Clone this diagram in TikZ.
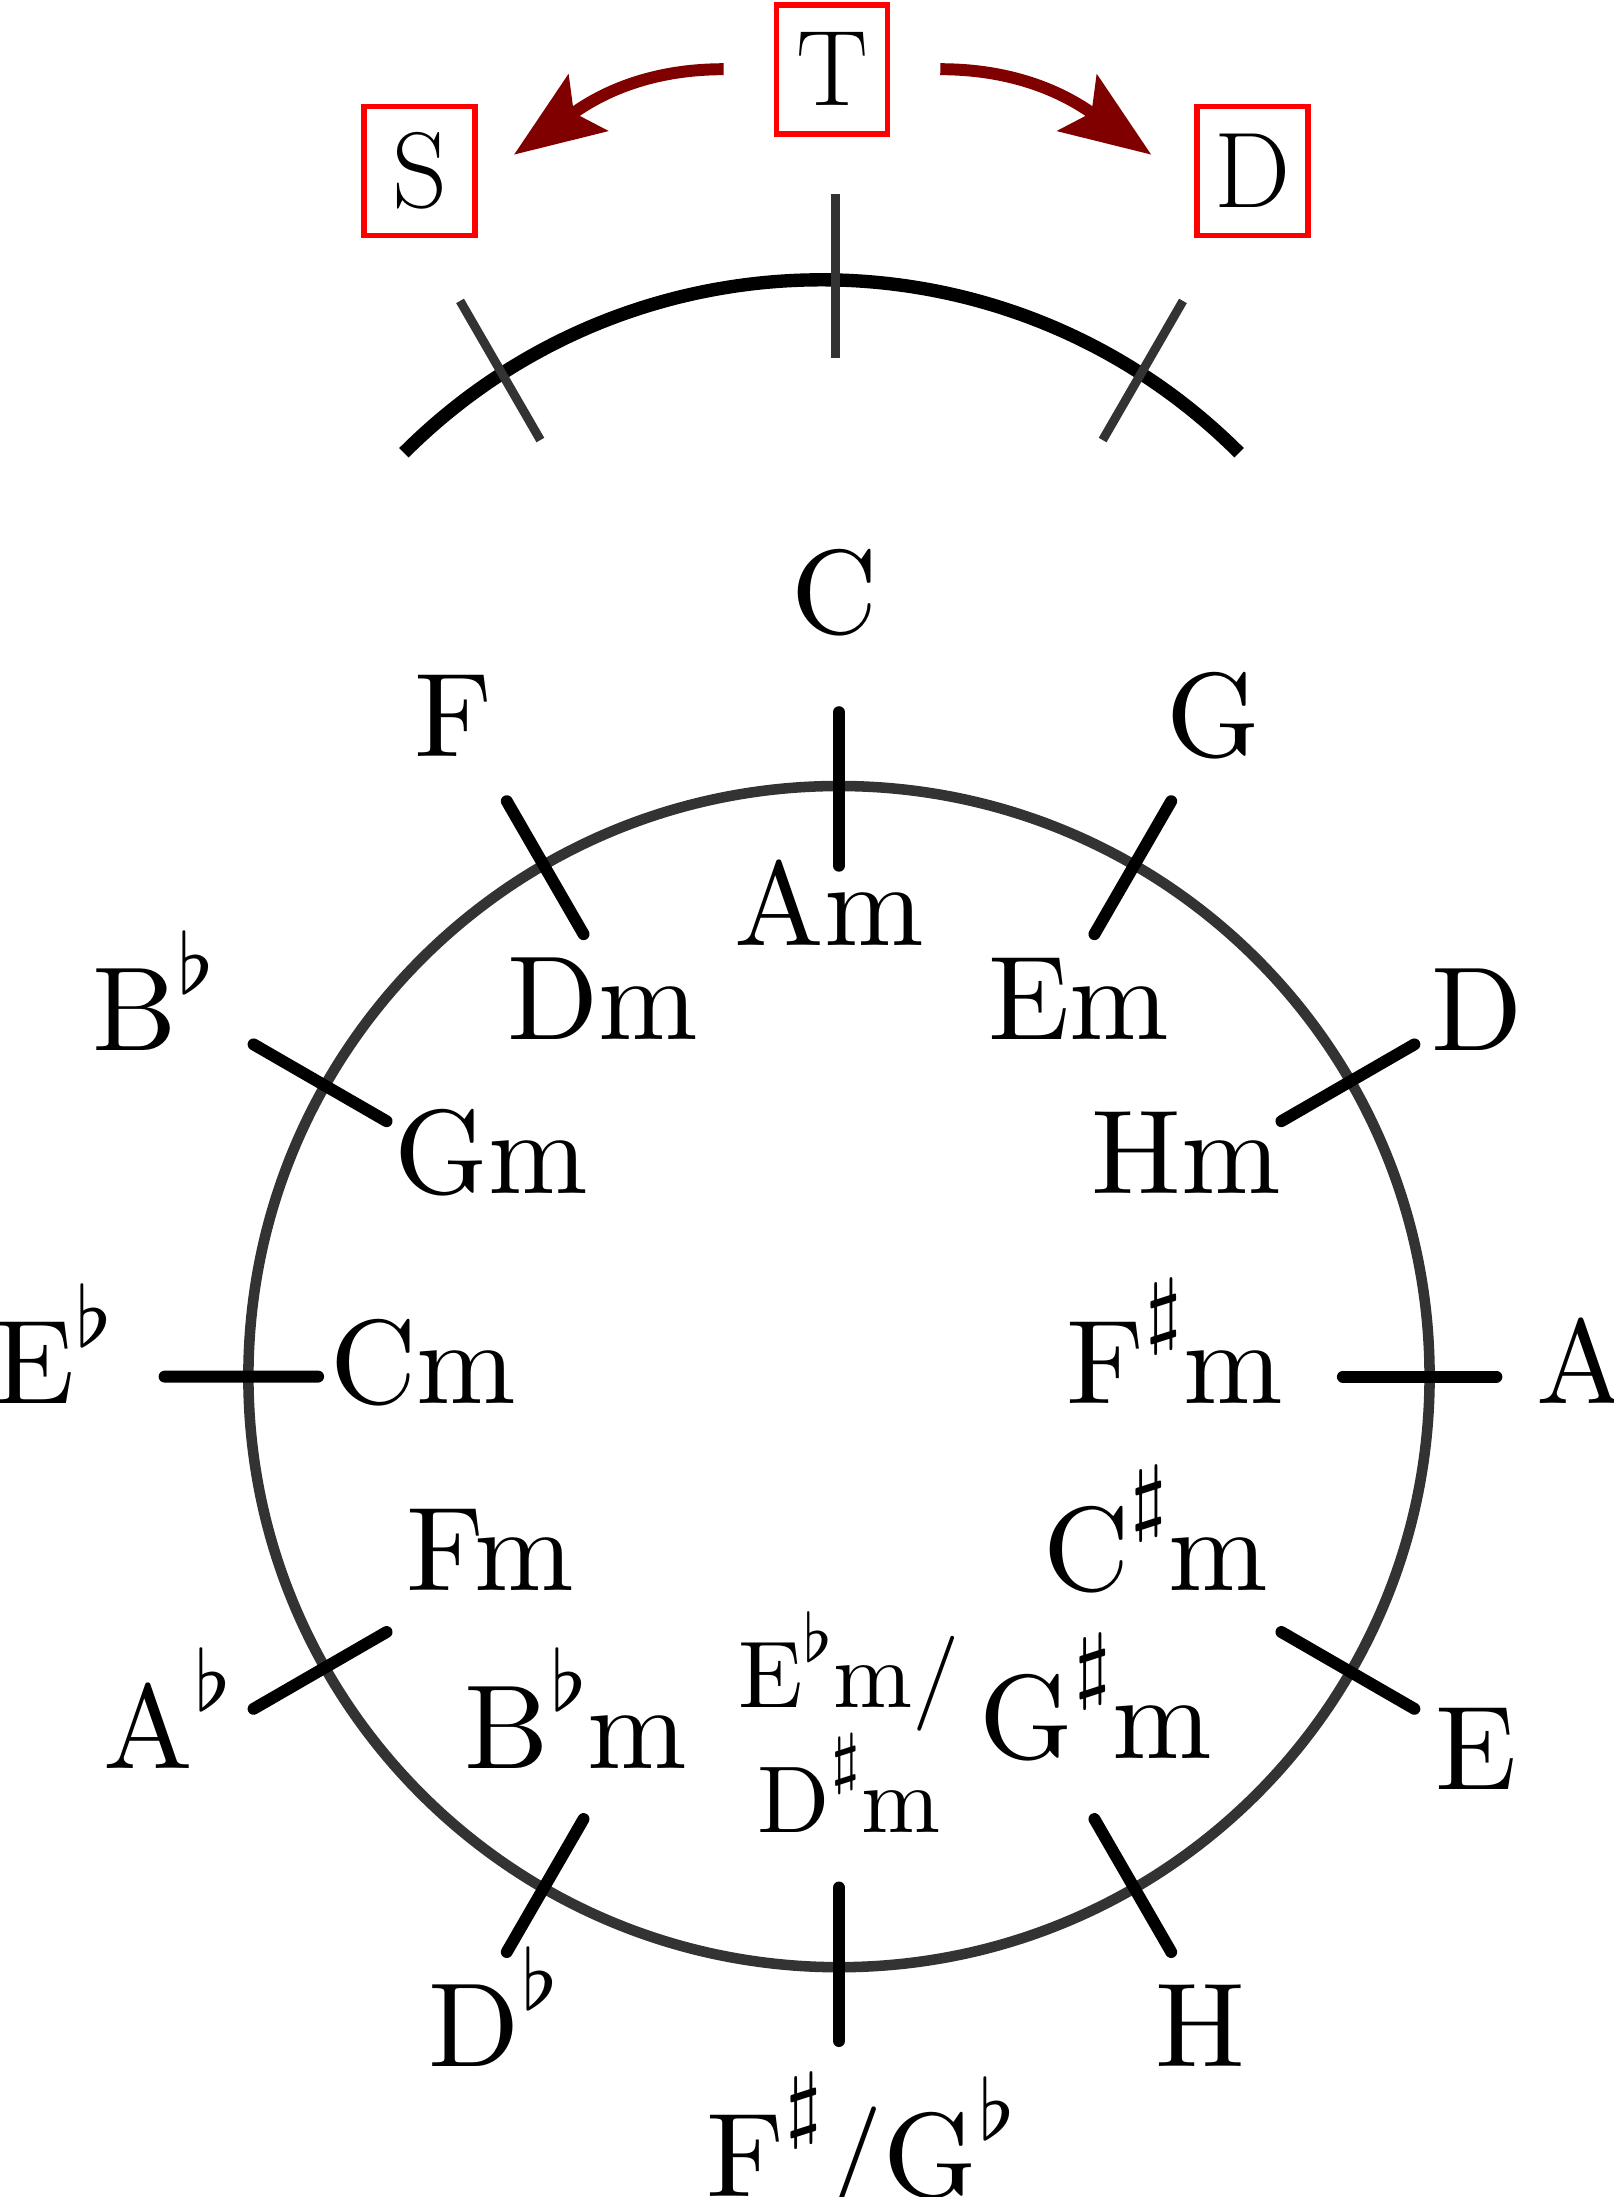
\documentclass[tikz,border=0pt]{standalone}
\usepackage{amsmath, amssymb}
\usepackage{xcolor}
\usepackage{tikz}
\usetikzlibrary{arrows.meta}
\definecolor{darkred}{RGB}{128,0,0}
\definecolor{ringgray}{RGB}{51,51,51}
\newcommand{\sharpup}{\raisebox{0.55em}{$\scriptstyle\sharp$}}
\newcommand{\flatup}{\raisebox{0.48em}{$\scriptstyle\flat$}}

\begin{document}
\begin{tikzpicture}[x=5.906cm, y=5.906cm,
  majorkey/.style={scale=3.4, anchor=base, inner sep=0pt},
  minorkey/.style={scale=3.4, anchor=base, inner sep=0pt},
  smallkey/.style={scale=2.7, align=center, inner sep=0pt},
  func/.style={draw=red, line width=1.6pt, minimum width=1.11cm, minimum height=1.29cm,
    inner sep=0pt, font=\fontsize{30.6}{36}\selectfont},
  keyring/.style={ringgray, line width=3pt},
  notch/.style={line width=3.4pt, line cap=round},
  bow/.style={line width=3.8pt},
  bownotch/.style={ringgray, line width=2.55pt},
  swing/.style={darkred, line width=3.4pt, -{Stealth[length=9mm, width=6.8mm, inset=1.7mm]}}
]

\useasboundingbox (-1.4206,-1.3891) rectangle (1.3122,2.3309);

% Circle of fifths
\draw[keyring] (0,0) circle (1);
\draw[notch] (30:0.865) -- (30:1.125) (60:0.865) -- (60:1.125)
  (90:0.865) -- (90:1.125) (120:0.865) -- (120:1.125)
  (240:0.865) -- (240:1.125) (270:0.865) -- (270:1.125)
  (300:0.865) -- (300:1.125) (330:0.865) -- (330:1.125);
\draw[notch, xshift=-0.07cm] (0:0.865) -- (0:1.125);
\draw[notch, xshift=-0.1cm] (150:0.865) -- (150:1.125)
  (180:0.865) -- (180:1.125) (210:0.865) -- (210:1.125);

% Major keys
\node[majorkey] (kC) at (-0.007,1.2586) {C};
\node[majorkey] (kG) at (0.6337,1.0499) {G};
\node[majorkey] (kD) at (1.0797,0.5517) {D};
\node[majorkey] (kA) at (1.2565,-0.0455) {A};
\node[majorkey] (kE) at (1.0797,-0.6985) {E};
\node[majorkey] (kH) at (0.6117,-1.1681) {H};
\node[majorkey] (kFis) at (0.038,-1.389) {F\sharpup/G\flatup};
\node[majorkey] (kDes) at (-0.5843,-1.1681) {D\flatup};
\node[majorkey] (kAs) at (-1.1369,-0.6628) {A\flatup};
\node[majorkey] (kEs) at (-1.33,-0.0455) {E\flatup};
\node[majorkey] (kB) at (-1.1598,0.5517) {B\flatup};
\node[majorkey] (kF) at (-0.6521,1.0499) {F};

% Minor keys
\node[minorkey] (mA) at (-0.0163,0.7296) {Am};
\node[minorkey] (mE) at (0.406,0.5708) {Em};
\node[minorkey] (mH) at (0.5885,0.3097) {Hm};
\node[minorkey] (mFis) at (0.569,-0.0455) {F\sharpup m};
\node[minorkey] (mCis) at (0.5365,-0.3615) {C\sharpup m};
\node[minorkey] (mGis) at (0.4345,-0.6463) {G\sharpup m};
\node[smallkey] (mEs) at (0.0169,-0.585) {E\flatup m/\\[-0.7pt]D\sharpup m};
\node[minorkey] (mB) at (-0.4456,-0.6628) {B\flatup m};
\node[minorkey] (mF) at (-0.5904,-0.3615) {Fm};
\node[minorkey] (mC) at (-0.7044,-0.0455) {Cm};
\node[minorkey] (mG) at (-0.5881,0.3097) {Gm};
\node[minorkey] (mD) at (-0.4,0.5708) {Dm};

% Arc with the three functions
\begin{scope}[shift={(-0.0296,0.8571)}]
\draw[bow] (45:1) arc[start angle=45, end angle=135, radius=1];
\draw[bownotch] (-0.542,0.843) ++(120:0.14) -- ++(300:0.272);
\draw[bownotch] (0.542,0.843) ++(60:0.14) -- ++(240:0.272);
\draw[bownotch] (0.023,0.868) -- (0.023,1.145);
\end{scope}

% Tonic, subdominant, dominant
\node[func] (tonic) at (-0.0119,2.2137) {T};
\node[func] (sub) at (-0.71,2.0413) {S};
\node[func] (dom) at (0.7004,2.0413) {D};

\draw[swing] ([xshift=-0.5cm]tonic.west) to[out=180, in=35] ([xshift=0.36cm, yshift=-0.51cm]sub.north east);
\draw[swing] ([xshift=0.5cm]tonic.east) to[out=0, in=145] ([xshift=-0.43cm, yshift=-0.51cm]dom.north west);

\end{tikzpicture}
\end{document}
